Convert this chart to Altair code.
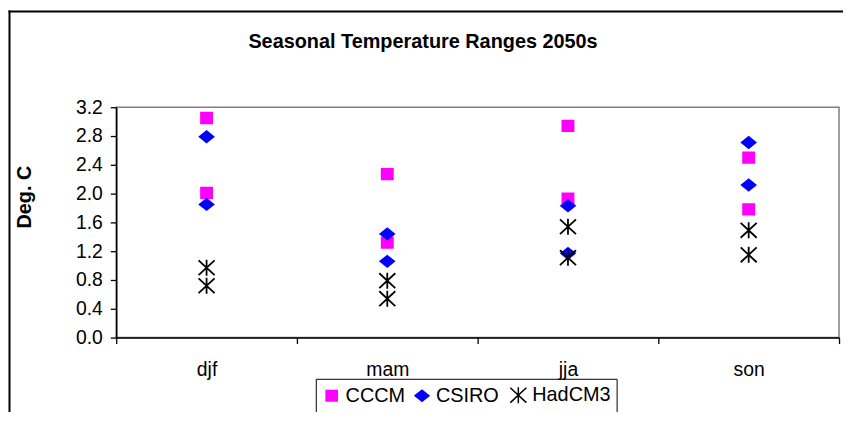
import altair as alt
import pandas as pd

seasons = ["djf", "mam", "jja", "son"]
models = ["CCCM", "CSIRO", "HadCM3"]
cccm_high = [3.05, 2.27, 2.94, 2.50]
cccm_low = [2.01, 1.32, 1.93, 1.78]
csiro_high = [2.79, 1.44, 1.83, 2.71]
csiro_low = [1.85, 1.06, 1.17, 2.12]
hadcm3_high = [0.97, 0.79, 1.54, 1.49]
hadcm3_low = [0.72, 0.54, 1.11, 1.15]
y_ticks = [0.0, 0.4, 0.8, 1.2, 1.6, 2.0, 2.4, 2.8, 3.2]
title_text = ["Seasonal Temperature Ranges 2050s"]
y_title = "Deg. C"
colors = ["#FF00FF", "#0000FF", "#000000"]
shapes = [
    "M-1,-0.95H1V0.95H-1Z",
    "M-1,0L0,-0.8L1,0L0,0.8Z",
    "M-1,-0.93L1,0.93M-1,0.93L1,-0.93M0,-1L0,1",
]
sizes = [125, 260, 196]

rows = []
for model, hi, lo in [("CCCM", cccm_high, cccm_low),
                      ("CSIRO", csiro_high, csiro_low),
                      ("HadCM3", hadcm3_high, hadcm3_low)]:
    for s, h, l in zip(seasons, hi, lo):
        rows.append({"season": s, "model": model, "value": h})
        rows.append({"season": s, "model": model, "value": l})
df = pd.DataFrame(rows)

FONT = "Liberation Sans"

points = alt.Chart(df).mark_point(filled=True, strokeWidth=1.8, opacity=1).encode(
    x=alt.X("season:N", sort=seasons,
            scale=alt.Scale(type="band", domain=seasons, paddingInner=0, paddingOuter=0),
            axis=alt.Axis(title=None, labelAngle=0, tickBand="extent", tickSize=6,
                          labelPadding=32, labelBaseline="alphabetic",
                          domainWidth=1.6, tickWidth=1.3, grid=False)),
    y=alt.Y("value:Q", scale=alt.Scale(domain=[0, 3.2], nice=False, zero=True),
            axis=alt.Axis(values=y_ticks, format=".1f", title=y_title, titleX=-86, titleY=90,
                          titleBaseline="alphabetic", titleFontSize=20, titleFontWeight="bold",
                          tickSize=6, labelPadding=8, grid=False, domainWidth=1.6, tickWidth=1.3)),
    fill=alt.Fill("model:N", scale=alt.Scale(domain=models, range=colors), title=None),
    stroke=alt.Stroke("model:N", scale=alt.Scale(domain=models, range=colors), title=None),
    shape=alt.Shape("model:N", scale=alt.Scale(domain=models, range=shapes), title=None),
    size=alt.Size("model:N", scale=alt.Scale(domain=models, range=sizes), title=None),
)

title_layer = alt.Chart(pd.DataFrame({"t": title_text})).mark_text(
    font=FONT, fontSize=20, fontWeight="bold", baseline="alphabetic", align="center", color="black"
).encode(x=alt.value(309), y=alt.value(-60), text="t:N")

frame_df = pd.DataFrame({"k": [0]})
left_frame = alt.Chart(frame_df).mark_rule(color="black", strokeWidth=2).encode(
    x=alt.value(-107.5), y=alt.value(-97.5), y2=alt.value(320))
top_frame = alt.Chart(frame_df).mark_rule(color="black", strokeWidth=2).encode(
    x=alt.value(-108.5), x2=alt.value(740), y=alt.value(-96.5))

chart = alt.layer(left_frame, top_frame, title_layer, points).properties(
    width=728, height=232,
    autosize=alt.AutoSizeParams(type="none"),
    padding={"left": 109, "top": 98.5, "right": 4, "bottom": 73.5},
    background="white",
).configure_view(
    stroke="#808080", strokeWidth=1.5
).configure_axis(
    labelFont=FONT, labelFontSize=19.5, labelColor="black",
    titleFont=FONT, titleColor="black",
    domainColor="black", tickColor="black",
).configure_legend(
    orient="none", legendX=201, legendY=273.5, direction="horizontal",
    strokeColor="black", padding=6, labelFont=FONT, labelFontSize=20,
    labelColor="black", labelOffset=4, columnPadding=7, symbolStrokeWidth=1.5,
)

chart.save("out.html", embed_options={"renderer": "svg", "actions": False})
